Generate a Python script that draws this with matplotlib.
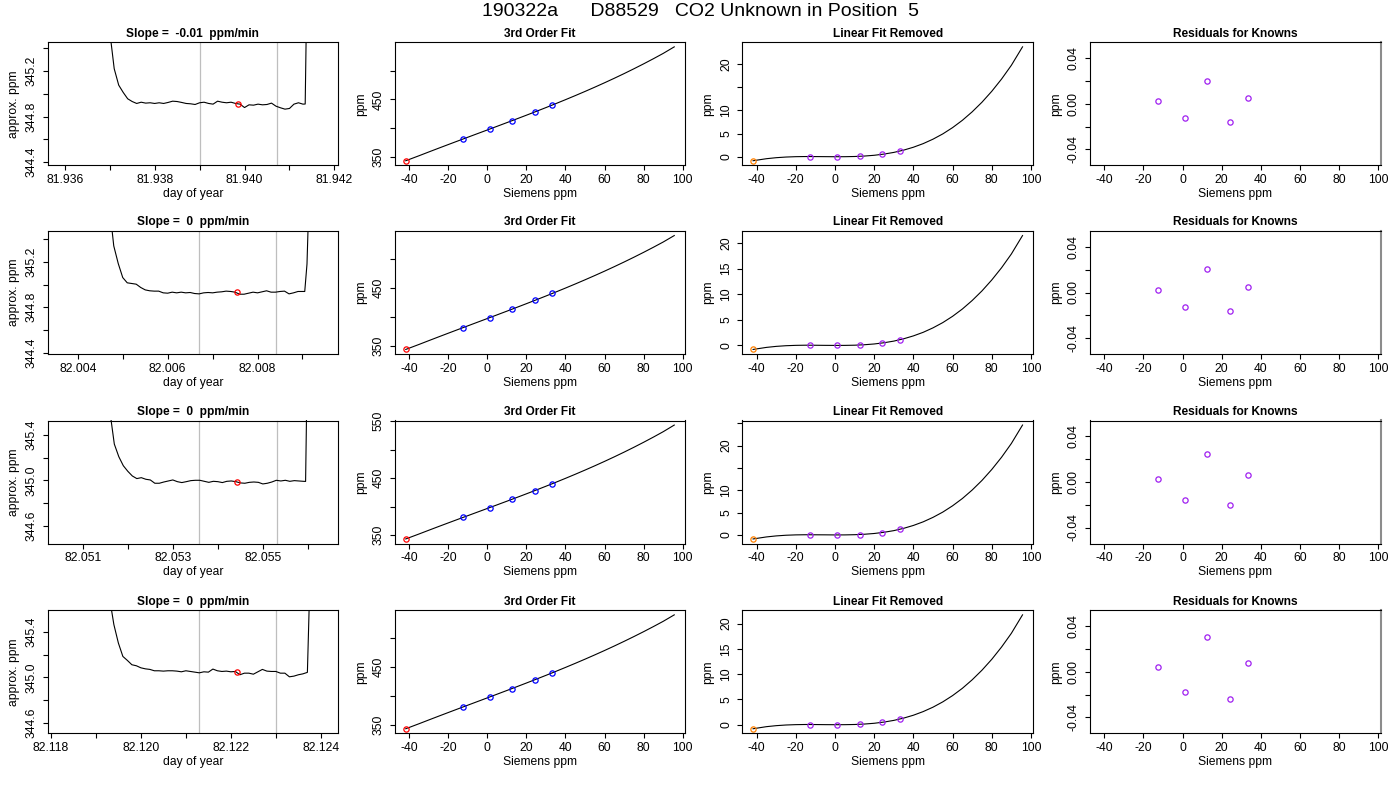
import math
import matplotlib
matplotlib.use("Agg")
import matplotlib.pyplot as plt

plt.rcParams['font.family'] = ['Liberation Sans', 'DejaVu Sans']
plt.rcParams['axes.unicode_minus'] = False

# ---------------- text ----------------
main_title = "190322a      D88529   CO2 Unknown in Position  5"
slope_titles = ["Slope =  -0.01  ppm/min", "Slope =  0  ppm/min",
                "Slope =  0  ppm/min", "Slope =  0  ppm/min"]

# ---------------- column 1: time series ----------------
ts1_day = [81.9369, 81.9370, 81.9371, 81.9372, 81.9373, 81.9374, 81.9375, 81.9376, 81.9377, 81.9378,
           81.9379, 81.9380, 81.9381, 81.9382, 81.9383, 81.9384, 81.9385, 81.9386, 81.9387, 81.9388,
           81.9389, 81.9390, 81.9391, 81.9392, 81.9393, 81.9394, 81.9395, 81.9396, 81.9397, 81.9398,
           81.9399, 81.9400, 81.9401, 81.9402, 81.9403, 81.9404, 81.9405, 81.9406, 81.9407, 81.9408,
           81.9409, 81.9410, 81.9411, 81.9412, 81.9413, 81.94135, 81.9414]
ts1_ppm = [346.30, 345.55, 345.22, 345.076, 345.012, 344.956, 344.932, 344.915, 344.926, 344.918,
           344.921, 344.915, 344.921, 344.915, 344.924, 344.935, 344.932, 344.924, 344.915, 344.912,
           344.906, 344.921, 344.926, 344.915, 344.909, 344.935, 344.926, 344.921, 344.926, 344.915,
           344.909, 344.879, 344.903, 344.900, 344.909, 344.903, 344.906, 344.918, 344.891, 344.877,
           344.865, 344.871, 344.909, 344.921, 344.909, 344.910, 346.30]

ts2_day = [82.0046, 82.0047, 82.0048, 82.0049, 82.0050, 82.0051, 82.0052, 82.0053, 82.0054, 82.0055,
           82.0056, 82.0057, 82.0058, 82.0059, 82.0060, 82.0061, 82.0062, 82.0063, 82.0064, 82.0065,
           82.0066, 82.0067, 82.0068, 82.0069, 82.0070, 82.0071, 82.0072, 82.0073, 82.0074, 82.0075,
           82.0076, 82.0077, 82.0078, 82.0079, 82.0080, 82.0081, 82.0082, 82.0083, 82.0084, 82.0085,
           82.0086, 82.0087, 82.0088, 82.0089, 82.0090, 82.00905, 82.0091, 82.0092]
ts2_ppm = [346.40, 345.70, 345.339, 345.184, 345.061, 345.015, 345.009, 345.003, 344.974, 344.953,
           344.945, 344.942, 344.942, 344.927, 344.924, 344.933, 344.927, 344.933, 344.927, 344.930,
           344.921, 344.918, 344.927, 344.930, 344.927, 344.933, 344.936, 344.942, 344.939, 344.933,
           344.915, 344.915, 344.924, 344.933, 344.927, 344.936, 344.945, 344.933, 344.933, 344.939,
           344.942, 344.918, 344.927, 344.939, 344.939, 344.939, 345.180, 346.50]

ts3_day = [82.0515, 82.0516, 82.0517, 82.0518, 82.0519, 82.0520, 82.0521, 82.0522, 82.0523, 82.0524,
           82.0525, 82.0526, 82.0527, 82.0528, 82.0529, 82.0530, 82.0531, 82.0532, 82.0533, 82.0534,
           82.0535, 82.0536, 82.0537, 82.0538, 82.0539, 82.0540, 82.0541, 82.0542, 82.0543, 82.0544,
           82.0545, 82.0546, 82.0547, 82.0548, 82.0549, 82.0550, 82.0551, 82.0552, 82.0553, 82.0554,
           82.0555, 82.0556, 82.0557, 82.0558, 82.0559, 82.05595, 82.0560]
ts3_ppm = [346.30, 345.61, 345.318, 345.207, 345.128, 345.079, 345.038, 345.015, 345.023, 345.009,
           345.003, 344.974, 344.974, 344.985, 344.994, 345.003, 344.988, 344.980, 344.988, 344.997,
           345.000, 345.000, 344.991, 344.982, 344.991, 344.988, 344.980, 344.991, 344.994, 344.988,
           344.977, 344.974, 344.982, 344.985, 344.982, 344.968, 344.974, 344.985, 345.000, 344.994,
           345.000, 344.991, 344.997, 344.994, 344.991, 344.990, 346.40]

ts4_day = [82.1192, 82.1193, 82.1194, 82.1195, 82.1196, 82.1197, 82.1198, 82.1199, 82.1200, 82.1201,
           82.1202, 82.1203, 82.1204, 82.1205, 82.1206, 82.1207, 82.1208, 82.1209, 82.1210, 82.1211,
           82.1212, 82.1213, 82.1214, 82.1215, 82.1216, 82.1217, 82.1218, 82.1219, 82.1220, 82.1221,
           82.1222, 82.1223, 82.1224, 82.1225, 82.1226, 82.1227, 82.1228, 82.1229, 82.1230, 82.1231,
           82.1232, 82.1233, 82.1234, 82.1235, 82.1236, 82.1237, 82.1238]
ts4_ppm = [346.40, 345.71, 345.465, 345.303, 345.185, 345.150, 345.112, 345.103, 345.085, 345.076,
           345.071, 345.059, 345.059, 345.056, 345.059, 345.059, 345.056, 345.050, 345.059, 345.053,
           345.047, 345.041, 345.050, 345.047, 345.074, 345.059, 345.053, 345.056, 345.050, 345.053,
           345.024, 345.038, 345.038, 345.029, 345.050, 345.071, 345.056, 345.053, 345.053, 345.038,
           345.038, 345.006, 345.012, 345.024, 345.032, 345.045, 346.50]

ts_xlim1 = [81.93562, 81.94208]
ts_xlim2 = [82.00333, 82.00979]
ts_xlim3 = [82.05022, 82.05667]
ts_xlim4 = [82.11793, 82.12438]

# unknown sample point (day, ppm) and averaging window (gray lines)
unk_day = [81.93985, 82.007548, 82.054437, 82.122141]
unk_ppm = [344.912, 344.930, 344.985, 345.050]
win_start = [81.93900, 82.006689, 82.053578, 82.121281]
win_end = [81.94073, 82.008415, 82.055304, 82.123007]

# ---------------- columns 2-4: calibration ----------------
fit_x = [-41.8, -35, -30, -25, -20, -15, -10, -5, 0, 5, 10, 15, 20, 25, 30, 35,
         40, 45, 50, 55, 60, 65, 70, 75, 80, 85, 90, 95.7]
known_x = [-12.5, 1.2, 12.6, 24.2, 33.2]
unknown_x = [-41.8, -41.8, -41.8, -41.8]

fit1_y = [343.63, 352.30, 358.84, 365.31, 371.71, 378.07, 384.38, 390.70, 397.00, 403.34, 409.70,
          416.10, 422.56, 429.12, 435.76, 442.54, 449.45, 456.50, 463.72, 471.13, 478.74, 486.56,
          494.61, 502.94, 511.51, 520.38, 529.56, 540.99]
fit2_y = [343.71, 352.34, 358.86, 365.32, 371.71, 378.07, 384.38, 390.69, 397.00, 403.34, 409.69,
          416.11, 422.58, 429.15, 435.79, 442.57, 449.46, 456.49, 463.68, 471.04, 478.59, 486.35,
          494.33, 502.54, 511.00, 519.72, 528.73, 539.93]
fit3_y = [343.60, 352.28, 358.83, 365.31, 371.71, 378.07, 384.38, 390.70, 397.00, 403.34, 409.70,
          416.13, 422.62, 429.22, 435.91, 442.75, 449.72, 456.86, 464.18, 471.69, 479.42, 487.38,
          495.60, 504.08, 512.85, 521.92, 531.32, 543.04]
fit4_y = [343.70, 352.34, 358.86, 365.32, 371.71, 378.07, 384.38, 390.69, 397.00, 403.34, 409.69,
          416.11, 422.58, 429.15, 435.80, 442.58, 449.47, 456.52, 463.71, 471.09, 478.65, 486.42,
          494.42, 502.65, 511.12, 519.88, 528.91, 540.15]

known_fit1 = [381.23, 398.52, 413.03, 428.10, 440.10]
known_fit2 = [381.22, 398.52, 413.02, 428.08, 440.11]
known_fit3 = [381.23, 398.52, 413.03, 428.15, 440.27]
known_fit4 = [381.22, 398.52, 413.02, 428.09, 440.12]

lin1_y = [-0.87, -0.43, -0.21, -0.07, 0.01, 0.04, 0.03, 0.015, 0.0, 0.005, 0.048, 0.145, 0.31,
          0.57, 0.93, 1.42, 2.05, 2.83, 3.79, 4.93, 6.29, 7.87, 9.70, 11.78, 14.14, 16.79, 19.76, 23.75]
lin2_y = [-0.79, -0.39, -0.19, -0.06, 0.01, 0.04, 0.03, 0.01, 0.0, 0.005, 0.04, 0.13, 0.28,
          0.52, 0.84, 1.29, 1.86, 2.56, 3.43, 4.46, 5.69, 7.12, 8.78, 10.66, 12.80, 15.19, 17.88, 21.49]
lin3_y = [-0.90, -0.45, -0.22, -0.07, 0.01, 0.04, 0.03, 0.02, 0.0, 0.005, 0.05, 0.15, 0.32,
          0.59, 0.96, 1.47, 2.12, 2.93, 3.93, 5.11, 6.52, 8.15, 10.05, 12.20, 14.65, 17.39, 20.47, 24.60]
lin4_y = [-0.80, -0.39, -0.19, -0.06, 0.01, 0.04, 0.03, 0.01, 0.0, 0.005, 0.04, 0.13, 0.28,
          0.52, 0.85, 1.30, 1.87, 2.59, 3.46, 4.51, 5.75, 7.19, 8.87, 10.77, 12.92, 15.35, 18.06, 21.71]

known_lin1 = [0.04, 0.0, 0.09, 0.52, 1.22]
known_lin2 = [0.03, 0.0, 0.08, 0.47, 1.11]
known_lin3 = [0.04, 0.0, 0.09, 0.54, 1.27]
known_lin4 = [0.03, 0.0, 0.08, 0.48, 1.12]

resid1 = [0.0024, -0.0124, 0.0203, -0.0162, 0.0050]
resid2 = [0.0024, -0.0124, 0.0206, -0.0162, 0.0050]
resid3 = [0.0030, -0.0160, 0.0250, -0.0205, 0.0065]
resid4 = [0.0038, -0.0179, 0.0306, -0.0235, 0.0076]

calib_xticks = [-40, -20, 0, 20, 40, 60, 80, 100]
calib_xlim = [-47.3, 101.2]
resid_ylim = [-0.054, 0.054]
lin_skip_labels = [[15], [], [15, 25], []]

# ---------------- styling ----------------
RED = '#FF0000'
BLUE = '#0000FF'
PURPLE = '#A020F0'
ORANGE = '#FF8000'
GRAY = '#BEBEBE'
FS_TICK = 8.7
FS_LAB = 8.7
FS_TITLE = 8.6

W, H = 1400, 800
col_left = [47.7, 395.0, 742.3, 1090.0]
col_width = [290.3, 290.0, 291.0, 290.7]
row_top = [42.3, 231.0, 420.5, 610.3]
row_h = 123.0

fig = plt.figure(figsize=(14, 8), dpi=100)
fig.text(0.5, 1 - 11 / H, main_title, ha='center', va='center', fontsize=14)


def make_ax(r, c):
    l = col_left[c] / W
    b = 1 - (row_top[r] + row_h) / H
    ax = fig.add_axes([l, b, col_width[c] / W, row_h / H])
    for s in ax.spines.values():
        s.set_linewidth(0.8)
        s.set_color('black')
    ax.tick_params(direction='out', length=3.8, width=0.8, labelsize=FS_TICK, color='black')
    ax.tick_params(axis='x', pad=2.5)
    ax.tick_params(axis='y', pad=3.5)
    return ax


def set_y(ax, ticks, labels):
    ax.set_yticks(ticks)
    ax.set_yticklabels(labels, rotation=90, va='center', ha='right')


def set_x(ax, ticks, labels):
    ax.set_xticks(ticks)
    ax.set_xticklabels(labels)


ts_days = [ts1_day, ts2_day, ts3_day, ts4_day]
ts_ppms = [ts1_ppm, ts2_ppm, ts3_ppm, ts4_ppm]
ts_xlims = [ts_xlim1, ts_xlim2, ts_xlim3, ts_xlim4]
fit_ys = [fit1_y, fit2_y, fit3_y, fit4_y]
known_fits = [known_fit1, known_fit2, known_fit3, known_fit4]
lin_ys = [lin1_y, lin2_y, lin3_y, lin4_y]
known_lins = [known_lin1, known_lin2, known_lin3, known_lin4]
resids = [resid1, resid2, resid3, resid4]

mk = dict(marker='o', linestyle='none', markersize=3.8, markerfacecolor='none', markeredgewidth=0.9)

for r in range(4):
    # ---- column 1 ----
    ax = make_ax(r, 0)
    ax.axvline(win_start[r], color=GRAY, lw=0.9)
    ax.axvline(win_end[r], color=GRAY, lw=0.9)
    ax.plot(ts_days[r], ts_ppms[r], color='black', lw=0.8)
    ax.plot([unk_day[r]], [unk_ppm[r]], markeredgecolor=RED, **mk)
    ax.set_xlim(ts_xlims[r])
    y0, y1 = unk_ppm[r] - 0.54, unk_ppm[r] + 0.54
    ax.set_ylim(y0, y1)
    i0, i1 = math.ceil(ts_xlims[r][0] * 1000 - 1e-6), math.floor(ts_xlims[r][1] * 1000 + 1e-6)
    xt = [k / 1000 for k in range(i0, i1 + 1)]
    set_x(ax, xt, [f"{v:.3f}" if i % 2 == 0 else "" for i, v in enumerate(xt)])
    j0, j1 = math.ceil(y0 * 5 - 1e-6), math.floor(y1 * 5 + 1e-6)
    yt = [k / 5 for k in range(j0, j1 + 1)]
    set_y(ax, yt, [f"{v:.1f}" if i % 2 == 0 else "" for i, v in enumerate(yt)])
    ax.set_title(slope_titles[r], fontsize=FS_TITLE, fontweight='bold', pad=4)
    ax.set_xlabel("day of year", fontsize=FS_LAB, labelpad=1.5)
    ax.set_ylabel("approx. ppm", fontsize=FS_LAB, labelpad=4)

    # ---- column 2: 3rd order fit ----
    ax = make_ax(r, 1)
    ax.plot(fit_x, fit_ys[r], color='black', lw=0.8)
    ax.plot(known_x, known_fits[r], markeredgecolor=BLUE, **mk)
    ax.plot([unknown_x[r]], [fit_ys[r][0]], markeredgecolor=RED, **mk)
    ax.margins(x=0, y=0.04)
    ax.set_xlim(calib_xlim)
    ax.autoscale_view(scalex=False)
    y0, y1 = ax.get_ylim()
    yt = [50 * k for k in range(math.ceil(y0 / 50), math.floor(y1 / 50) + 1)]
    set_y(ax, yt, [f"{v:.0f}" if i % 2 == 0 else "" for i, v in enumerate(yt)])
    ax.set_ylim(y0, y1)
    set_x(ax, calib_xticks, [str(v) for v in calib_xticks])
    ax.set_title("3rd Order Fit", fontsize=FS_TITLE, fontweight='bold', pad=4)
    ax.set_xlabel("Siemens ppm", fontsize=FS_LAB, labelpad=1.5)
    ax.set_ylabel("ppm", fontsize=FS_LAB, labelpad=4)

    # ---- column 3: linear fit removed ----
    ax = make_ax(r, 2)
    ax.plot(fit_x, lin_ys[r], color='black', lw=0.8)
    ax.plot(known_x, known_lins[r], markeredgecolor=PURPLE, **mk)
    ax.plot([unknown_x[r]], [lin_ys[r][0]], markeredgecolor=ORANGE, **mk)
    ax.margins(x=0, y=0.04)
    ax.set_xlim(calib_xlim)
    ax.autoscale_view(scalex=False)
    y0, y1 = ax.get_ylim()
    yt = [5 * k for k in range(math.ceil(y0 / 5), math.floor(y1 / 5) + 1)]
    set_y(ax, yt, ["" if v in lin_skip_labels[r] else f"{v:d}" for v in yt])
    ax.set_ylim(y0, y1)
    set_x(ax, calib_xticks, [str(v) for v in calib_xticks])
    ax.set_title("Linear Fit Removed", fontsize=FS_TITLE, fontweight='bold', pad=4)
    ax.set_xlabel("Siemens ppm", fontsize=FS_LAB, labelpad=1.5)
    ax.set_ylabel("ppm", fontsize=FS_LAB, labelpad=4)

    # ---- column 4: residuals ----
    ax = make_ax(r, 3)
    ax.spines['right'].set_color('#8C8C8C')
    ax.spines['right'].set_linewidth(1.5)
    ax.plot(known_x, resids[r], markeredgecolor=PURPLE, **mk)
    ax.set_xlim(calib_xlim)
    ax.set_ylim(resid_ylim)
    yt = [-0.04, -0.02, 0.0, 0.02, 0.04]
    set_y(ax, yt, ["-0.04", "", "0.00", "", "0.04"])
    set_x(ax, calib_xticks, [str(v) for v in calib_xticks])
    ax.set_title("Residuals for Knowns", fontsize=FS_TITLE, fontweight='bold', pad=4)
    ax.set_xlabel("Siemens ppm", fontsize=FS_LAB, labelpad=1.5)
    ax.set_ylabel("ppm", fontsize=FS_LAB, labelpad=4)

fig.savefig("out.png", dpi=100)
